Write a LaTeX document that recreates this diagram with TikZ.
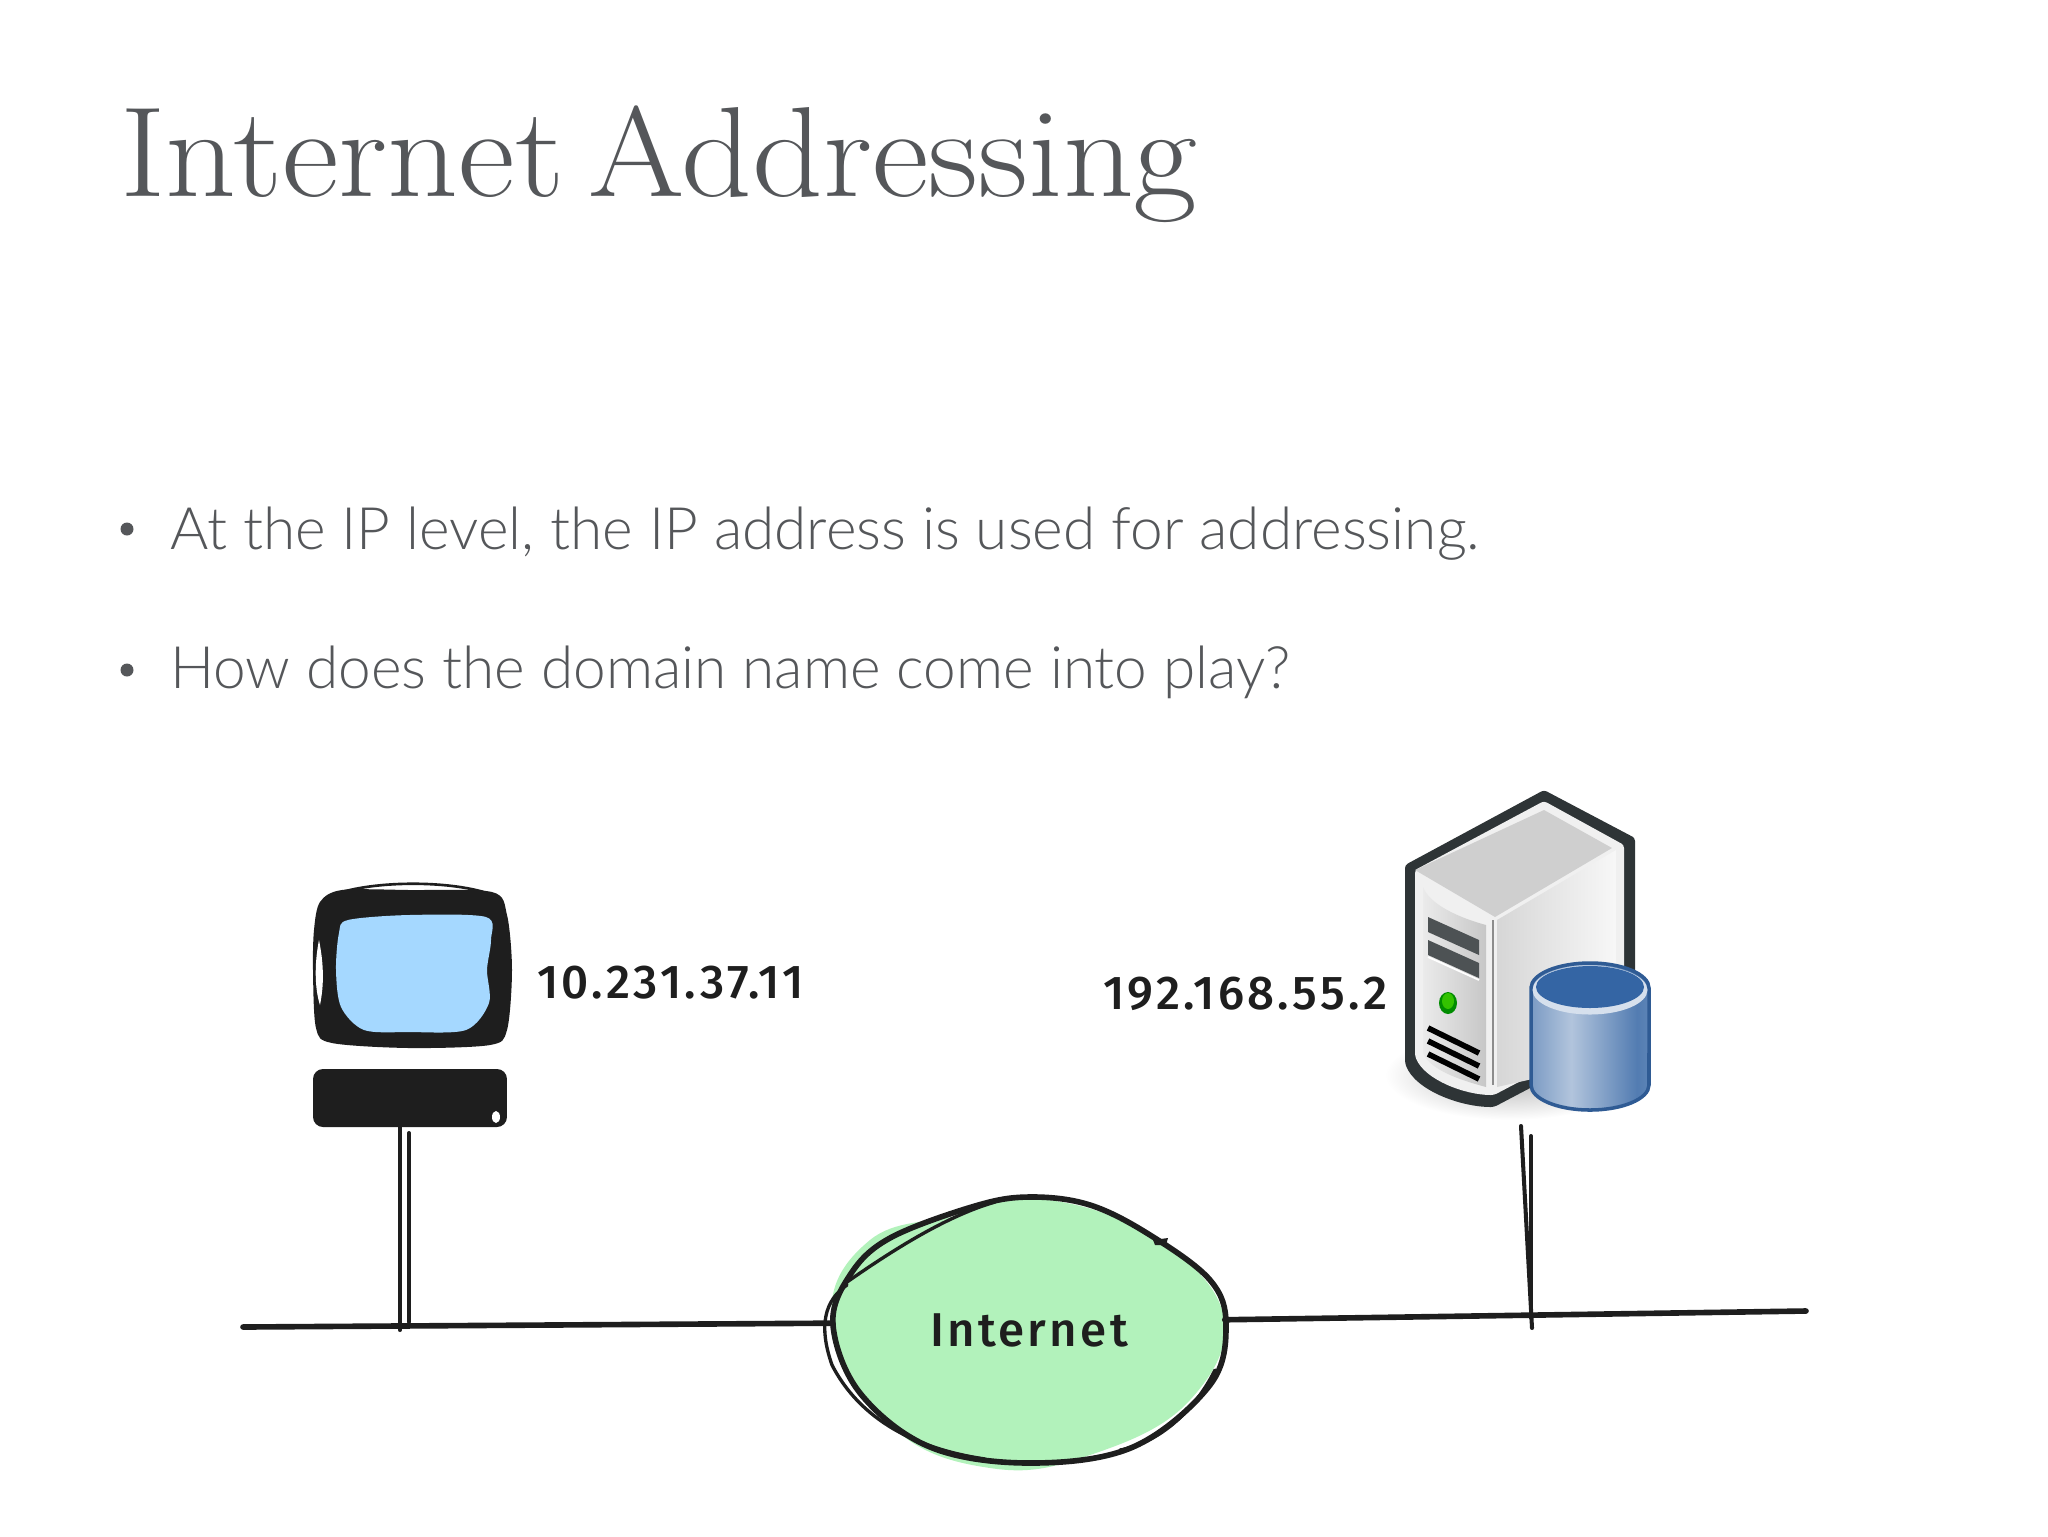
\documentclass[tikz,border=0pt]{standalone}
\usepackage{fontspec}
\usetikzlibrary{positioning,shapes.geometric}
\newfontfamily\bodyfont{Lato Light}
\newfontfamily\handfont[LetterSpace=7]{Fira Sans Medium}
\definecolor{inkblack}{HTML}{1E1E1E}
\definecolor{screenblue}{HTML}{A5D8FF}
\definecolor{cloudgreen}{HTML}{B2F2BB}
\definecolor{slidegray}{HTML}{55575A}
\definecolor{towerdark}{HTML}{2E3436}
\definecolor{diskblue}{HTML}{3465A4}
\pgfdeclarehorizontalshading{diskbody}{100bp}{color(0bp)=(diskblue!65); color(25bp)=(diskblue!65); color(42bp)=(diskblue!38); color(70bp)=(diskblue!85); color(75bp)=(diskblue!80); color(100bp)=(diskblue!80)}
\tikzset{
  titletext/.style={anchor=base west,inner sep=0pt,text=slidegray,font=\fontsize{73}{80}\selectfont},
  bullettext/.style={anchor=base west,inner sep=0pt,text=slidegray,font=\bodyfont\fontsize{33.3}{40}\selectfont},
  bulletdot/.style={circle,fill=slidegray,inner sep=0pt,minimum size=.26cm},
  addrtext/.style={inner sep=0pt,text=inkblack,font=\handfont\fontsize{27}{30}\selectfont},
  wire/.style={draw=inkblack,line width=3.2pt,line cap=round},
  thinwire/.style={draw=inkblack,line width=2.3pt,line cap=round},
  sketchline/.style={draw=inkblack,line width=1.9pt,line cap=round},
}
\begin{document}
\begin{tikzpicture}[x=0.02cm,y=-0.02cm]
  \useasboundingbox (0,0) rectangle (2048,1536);
  % slide text
  \node[titletext] (heading) at (120,196) {\scalebox{1.082}[1]{Internet\hspace{-.125em} Addressing}};
  \node[bulletdot] (dotone) at (127,529) {};
  \node[bulletdot] (dottwo) at (127,670) {};
  \node[bullettext] (lineone) at (170,549) {At the IP level, the IP address is used for addressing.};
  \node[bullettext] (linetwo) at (170,688) {How does the domain name come into play?};

  % client
  \fill[inkblack] plot[smooth cycle,tension=.5] coordinates {(320,902) (342,890) (409,890) (492,892) (507,915) (512,970) (507,1030) (490,1045) (409,1048) (332,1043) (316,1028) (313,970) (314,930)};
  \fill[screenblue] plot[smooth cycle,tension=.5] coordinates {(348,920) (409,915) (486,917) (491,940) (487,970) (489,1003) (466,1030) (409,1032) (364,1030) (341,1007) (336,970) (339,933)};
  \draw[inkblack,line width=1.5pt] (330,896) .. controls (370,880) and (450,880) .. (490,894);
  \fill[white] (319,940) .. controls (314,965) and (315,990) .. (320,1005) .. controls (324,985) and (324,965) .. (319,940);
  \node[fill=inkblack,rounded corners=.2cm,minimum width=3.88cm,minimum height=1.16cm,inner sep=0pt] (keyboard) at (410,1098) {};
  \fill[white] (496,1117) ellipse [x radius=.08cm,y radius=.12cm];
  \node[addrtext,anchor=west] (clientip) at (537,983) {10.231.37.11};

  % cloud
  \fill[cloudgreen] plot[smooth cycle,tension=.7] coordinates {(832,1320) (870,1240) (960,1215) (1030,1198) (1140,1230) (1222,1310) (1190,1400) (1090,1455) (990,1468) (890,1425)};
  \draw[wire] plot[smooth cycle,tension=.6] coordinates {(833,1325) (850,1275) (890,1238) (975,1206) (1030,1197) (1090,1205) (1150,1235) (1210,1280) (1226,1325) (1210,1385) (1133,1447) (1030,1463) (930,1447) (860,1393)};
  \draw[sketchline] (847,1285) .. controls (825,1300) and (818,1325) .. (832,1365) .. controls (850,1400) and (890,1445) .. (985,1459);
  \draw[sketchline] (847,1282) .. controls (900,1245) and (950,1215) .. (995,1202);
  \draw[sketchline] (1215,1370) .. controls (1190,1420) and (1150,1445) .. (1120,1450);
  \fill[inkblack] (1153,1240) -- (1168,1238) -- (1166,1245) -- (1155,1245) -- cycle;
  \node[ellipse,minimum width=7.84cm,minimum height=5.36cm,inner sep=0pt,
    text=inkblack,font=\handfont\fontsize{27}{30}\selectfont] (internet) at (1029,1330) {Internet};

  % server
  \shade[inner color=black!30,outer color=white] (1510,1075) ellipse [x radius=2.5cm,y radius=.9cm];
  \fill[towerdark,rounded corners=.06cm] (1544,790) -- (1635,838) -- (1635,1050) -- (1532,1087)
    -- (1494,1107) .. controls (1460,1107) and (1415,1090) .. (1405,1063) -- (1405,865) -- cycle;
  \fill[white!94!black,rounded corners=.06cm] (1544,801) -- (1624,845) -- (1624,1050) -- (1532,1075)
    -- (1494,1095) .. controls (1465,1095) and (1425,1080) .. (1415,1056) -- (1415,870) -- cycle;
  \fill[black!19] (1544,810) -- (1612,848) -- (1495,917) -- (1415,870) -- cycle;
  \shade[left color=black!8,right color=black!22] (1423,887) .. controls (1430,905) and (1460,918) .. (1486,925)
    -- (1486,1087) .. controls (1460,1080) and (1430,1070) .. (1423,1053) -- cycle;
  \shade[left color=black!16,right color=black!3] (1497,920) -- (1616,850) -- (1616,1060) -- (1497,1087) -- cycle;
  \draw[black!45,line width=1.2pt] (1493,920) -- (1493,1085);
  \foreach \s in {0,23}
    \fill[towerdark!85] (1428,917+\s) -- (1479,940+\s) -- (1479,955+\s) -- (1428,932+\s) -- cycle;
  \draw[white,line width=1pt] (1428,957) -- (1479,980);
  \fill[green!55!black] (1448,1003) ellipse [x radius=.18cm,y radius=.22cm];
  \fill[green!70!black!80!yellow] (1448,1001) ellipse [x radius=.12cm,y radius=.16cm];
  \foreach \s in {0,13,26}
    \draw[black,line width=3.2pt] (1428,1028+\s) -- (1479,1053+\s);

  % disk
  \shade[shading=diskbody,draw=diskblue!90!black,line width=2pt]
    (1531,988) -- (1531,1085) arc[start angle=180,end angle=360,x radius=1.18cm,y radius=.5cm]
    -- (1649,988) arc[start angle=0,end angle=180,x radius=1.18cm,y radius=.5cm] -- cycle;
  \fill[white!80!diskblue] (1590,990) ellipse [x radius=1.15cm,y radius=.49cm];
  \fill[diskblue] (1590,987) ellipse [x radius=1.08cm,y radius=.42cm];
  \node[addrtext,anchor=west] (serverip) at (1103,994) {192.168.55.2};

  % network wires
  \coordinate (busleft) at (243,1327);
  \coordinate (busright) at (1806,1311);
  \coordinate (clienttap) at (400,1330);
  \coordinate (clienttapb) at (409,1322);
  \coordinate (clienttopb) at (409,1133);
  \coordinate (servertop) at (1521,1126);
  \coordinate (servertap) at (1532,1328);
  \coordinate (servertopb) at (1531,1136);
  \coordinate (servertapb) at (1531,1318);
  \draw[wire] (busleft) -- (internet.178);
  \draw[wire] (internet.3) -- (busright);
  \draw[thinwire] (keyboard.south -| clienttap) -- (clienttap);
  \draw[thinwire] (clienttopb) -- (clienttapb);
  \draw[thinwire] (servertop) -- (servertap);
  \draw[thinwire] (servertopb) -- (servertapb);
\end{tikzpicture}
\end{document}
